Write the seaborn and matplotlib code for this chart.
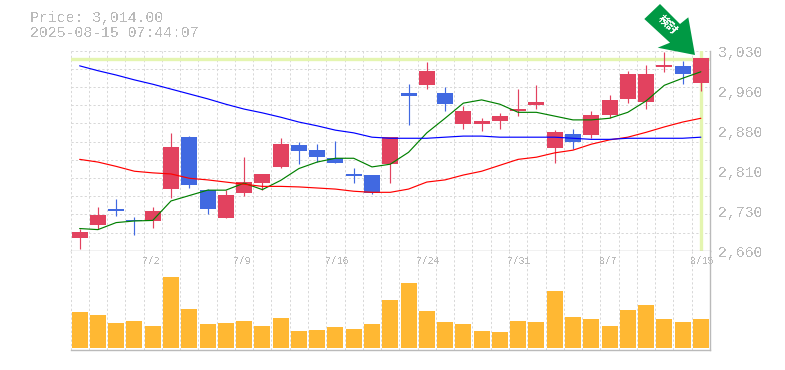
import matplotlib
matplotlib.use('Agg')
import matplotlib.pyplot as plt
from matplotlib.patches import Polygon
import seaborn as sns
import pandas as pd

# daily candles
opens = [2683, 2707, 2737, 2717, 2715, 2774, 2870, 2772, 2720, 2766, 2785, 2815,
         2855, 2846, 2831, 2802, 2800, 2820, 2952, 2966, 2952, 2894, 2894, 2900,
         2918, 2929, 2850, 2876, 2874, 2911, 2941, 2935, 3000, 3002, 2971]
closes = [2694, 2726, 2733, 2715, 2733, 2852, 2781, 2737, 2763, 2787, 2802, 2857,
          2844, 2833, 2822, 2798, 2766, 2870, 2946, 2992, 2931, 2918, 2900, 2909,
          2922, 2935, 2879, 2861, 2911, 2939, 2987, 2987, 3003, 2987, 3016]
highs = [2700, 2741, 2755, 2722, 2741, 2878, 2872, 2774, 2772, 2833, 2802, 2868,
         2861, 2857, 2863, 2813, 2800, 2870, 2968, 3009, 2963, 2928, 2905, 2915,
         2959, 2966, 2883, 2885, 2918, 2948, 2992, 3003, 3028, 3011, 3016]
lows = [2663, 2700, 2724, 2689, 2702, 2757, 2776, 2728, 2720, 2761, 2772, 2813,
        2820, 2824, 2822, 2785, 2765, 2785, 2892, 2959, 2918, 2885, 2881, 2885,
        2909, 2922, 2822, 2848, 2868, 2905, 2933, 2922, 2991, 2968, 2956]

ma_short = [2701, 2699, 2712, 2715, 2716, 2752, 2762, 2772, 2772, 2785, 2773, 2790,
            2812, 2824, 2831, 2831, 2815, 2820, 2842, 2878, 2905, 2933, 2939, 2931,
            2916, 2916, 2909, 2902, 2902, 2905, 2916, 2937, 2966, 2979, 2991]
ma_mid = [2829, 2824, 2816, 2807, 2804, 2802, 2794, 2791, 2787, 2783, 2779, 2779,
          2778, 2776, 2774, 2770, 2768, 2768, 2774, 2787, 2791, 2800, 2807, 2818,
          2829, 2833, 2841, 2846, 2857, 2865, 2870, 2879, 2889, 2898, 2905]
ma_long = [3002, 2993, 2985, 2976, 2968, 2959, 2950, 2941, 2931, 2922, 2915, 2907,
           2898, 2891, 2883, 2878, 2870, 2868, 2868, 2868, 2870, 2872, 2872, 2870,
           2870, 2870, 2870, 2868, 2866, 2866, 2868, 2868, 2868, 2868, 2870]

volumes = [36, 33, 25, 27, 22, 71, 39, 24, 25, 27, 22, 30, 17, 18, 21, 19, 24, 48,
           65, 37, 26, 24, 17, 16, 27, 26, 57, 31, 29, 22, 38, 43, 29, 26, 29]

tick_pos = [4, 9, 14, 19, 24, 29, 34]
tick_labels = ['7/2', '7/9', '7/16', '7/24', '7/31', '8/7', '8/15']
price_ticks = [3030, 2960, 2880, 2810, 2730, 2660]
price_pos = [3030, 2956, 2882, 2808, 2734, 2660]
last_price = 3014

MONO = 'Liberation Mono'
GREY = '#bababa'
GRID = '#d8d8d8'
UP = '#e2425f'
DOWN = '#4169e1'
MARK = '#e4f5b0'
W, H = 785, 370
L, R, TOP, MID, BOT = 70.5, 710, 50.7, 250.7, 350
PX = 0.72  # one pixel at dpi 100

sns.set_theme(style='white')
plt.rcParams['text.antialiased'] = False
fig = plt.figure(figsize=(W / 100, H / 100), dpi=100, facecolor='white')
ax = fig.add_axes([L / W, 1 - MID / H, (R - L) / W, (MID - TOP) / H])
vax = fig.add_axes([L / W, 1 - BOT / H, (R - L) / W, (BOT - MID) / H])

df = pd.DataFrame({'i': range(len(opens)), 'open': opens, 'close': closes,
                   'high': highs, 'low': lows, 'short': ma_short, 'mid': ma_mid,
                   'long': ma_long, 'vol': volumes})

for a in (ax, vax):
    a.set_xlim(-0.5, len(df) - 0.5)
    a.set_facecolor('white')
    a.set_xticks([i - 0.5 for i in range(len(df))])
    a.set_xticklabels([])
    a.tick_params(length=0)
    a.grid(True, axis='x', color=GRID, linestyle=(0, (2.2, 2.2)), linewidth=PX)
    a.set_axisbelow(True)
    for s in a.spines.values():
        s.set_visible(False)
    a.spines['right'].set_visible(True)
    a.spines['right'].set_color(GREY)
    a.spines['right'].set_linewidth(1)

# price panel
ax.set_ylim(2660, 3030)
ax.set_yticks([3030 - k * 370 / 11 for k in range(12)])
ax.set_yticklabels([])
ax.grid(True, axis='y', color=GRID, linestyle=(0, (2.2, 2.2)), linewidth=PX)
ax.spines['bottom'].set_visible(True)
ax.spines['bottom'].set_color(GREY)
ax.spines['bottom'].set_linewidth(1)

ax.axhline(last_price, color=MARK, linewidth=2.4, zorder=1.5)
ax.axvline(len(df) - 1, color=MARK, linewidth=2.4, zorder=1.5)

for _, row in df.iterrows():
    col = UP if row['close'] >= row['open'] else DOWN
    ax.vlines(row['i'], row['low'], row['high'], color=col, linewidth=0.85, zorder=2)
    ax.bar(row['i'], abs(row['close'] - row['open']), bottom=min(row['open'], row['close']),
           width=0.875, color=col, linewidth=0, zorder=3)

for col, colour in (('short', 'green'), ('mid', 'red'), ('long', 'blue')):
    sns.lineplot(data=df, x='i', y=col, ax=ax, color=colour, linewidth=0.85, zorder=4, legend=False)
ax.set_xlabel('')
ax.set_ylabel('')
ax.set_xlim(-0.5, len(df) - 0.5)
ax.set_ylim(2660, 3030)

for val, pos in zip(price_ticks, price_pos):
    fig.text(718 / W, 1 - (MID - (pos - 2660) / 370 * 200 + 2.5) / H, f'{val:,}',
             family=MONO, fontsize=10.7, color=GREY, va='center', ha='left')

# volume panel
sns.barplot(data=df, x='i', y='vol', ax=vax, color='#ffb833', width=0.875, native_scale=True,
            saturation=1, linewidth=0, zorder=3)
vax.set_xlabel('')
vax.set_ylabel('')
vax.set_xlim(-0.5, len(df) - 0.5)
vax.set_ylim(-2, 97.3)
vax.set_yticks([])
vax.spines['bottom'].set_visible(True)
vax.spines['bottom'].set_color(GREY)
vax.spines['bottom'].set_linewidth(1)

for pos, lab in zip(tick_pos, tick_labels):
    vax.text(pos - 0.58, 87, lab, family=MONO, fontsize=7, color=GREY, va='center', ha='left', zorder=5)

fig.text(30 / W, 1 - 18 / H, f'Price: {last_price:,.2f}', family=MONO, fontsize=10.7, color=GREY, va='center')
fig.text(30 / W, 1 - 33 / H, '2025-08-15 07:44:07', family=MONO, fontsize=10.7, color=GREY, va='center')

# green callout arrow
arrow = [(660, 4), (644.3, 19), (670, 42.7), (657.7, 47.7), (695, 55), (688.3, 17.3), (680, 24)]
fig.add_artist(Polygon([(x / W, 1 - y / H) for x, y in arrow], closed=True, transform=fig.transFigure,
                       facecolor='#009944', edgecolor='none', zorder=10))
fig.text(668 / W, 1 - 25 / H, '検討', family=['Noto Sans CJK JP', 'DejaVu Sans'], fontsize=8, fontweight='bold',
         color='white', rotation=-45, rotation_mode='anchor', ha='center', va='center', zorder=11)

fig.savefig('out.png', dpi=100)
